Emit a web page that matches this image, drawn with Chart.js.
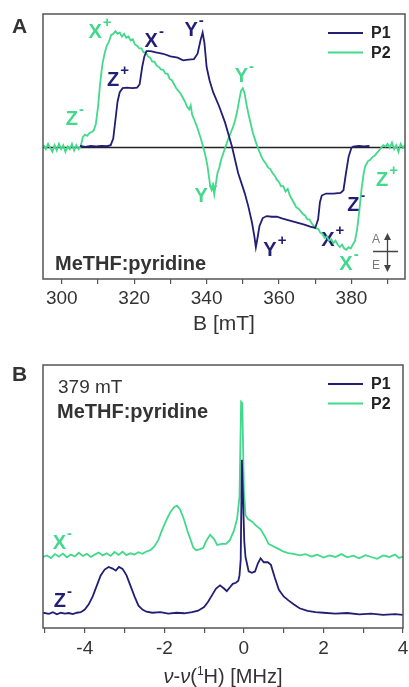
<!DOCTYPE html>
<html>
<head>
<meta charset="utf-8">
<script src="https://cdn.jsdelivr.net/npm/chart.js@4.4.1/dist/chart.umd.min.js"></script>
<style>
  html, body { margin: 0; padding: 0; background: #fff; }
  #wrapA { position: absolute; left: 0; top: 0; }
  #wrapB { position: absolute; left: 0; top: 345px; }
</style>
</head>
<body>
<div id="wrapA"><canvas id="epr" width="409" height="345"></canvas></div>
<div id="wrapB"><canvas id="endor" width="409" height="342"></canvas></div>
<script>
// ---- panel A: field-swept EPR (B in mT, signal A/E) ----
const fieldTicks = [300, 310, 320, 330, 340, 350, 360, 370, 380, 390];
const fieldP1 = [
  305, 306.5, 308, 309.5, 311, 312.5, 313.5, 314.2, 314.8, 315.4,
  316.0, 316.8, 318, 319.5, 320.8, 321.5, 322.2, 322.8, 323.4, 324.5,
  326, 328, 330, 332, 333.5, 335, 336.5, 337.5, 338.3, 338.9,
  339.4, 340, 340.8, 341.8, 343.5, 345.1, 347.0, 348.7, 350.5, 351.5,
  352.5, 353.2, 353.6, 354.0, 354.6, 355.5, 356.6, 358, 359.4, 361,
  363, 365, 367, 368.6, 370, 370.8, 371.3, 371.8, 373, 375,
  377, 377.8, 378.5, 379.2, 380, 380.5, 382, 383.5, 385
];
const signalP1 = [
  0.004, -0.003, 0.005, 0.0, 0.004, 0.002, 0.01, 0.06, 0.2, 0.34,
  0.41, 0.44, 0.445, 0.44, 0.445, 0.47, 0.6, 0.68, 0.72, 0.72,
  0.71, 0.70, 0.68, 0.67, 0.65, 0.655, 0.66, 0.70, 0.80, 0.86,
  0.78, 0.60, 0.5, 0.41, 0.30, 0.18, 0.0, -0.2, -0.35, -0.45,
  -0.57, -0.68, -0.76, -0.70, -0.6, -0.54, -0.525, -0.53, -0.53, -0.545,
  -0.56, -0.575, -0.59, -0.605, -0.615, -0.55, -0.42, -0.37, -0.355, -0.355,
  -0.35, -0.33, -0.2, -0.08, -0.01, 0, 0.005, 0.0, 0.005
];
const fieldP2 = [
  295.0, 295.6, 296.2, 296.8, 297.4, 298.0, 298.6, 299.2, 299.8, 300.4,
  301.0, 301.6, 302.2, 302.8, 303.4, 304.0, 304.6, 305.2, 305.8, 306.4,
  307.0, 307.6, 308.2, 308.8, 309.4, 310.0, 310.6, 311.2, 311.8, 312.4,
  313.0, 313.6, 314.2, 314.8, 315.4, 316.0, 316.6, 317.2, 317.8, 318.4,
  319.0, 319.6, 320.2, 320.8, 321.4, 322.0, 322.6, 323.2, 323.8, 324.4,
  325.0, 325.6, 326.2, 326.8, 327.4, 328.0, 328.6, 329.2, 329.8, 330.4,
  331.0, 331.6, 332.2, 332.8, 333.4, 334.0, 334.6, 335.2, 335.6, 336.0,
  336.6, 337.2, 337.8, 338.4, 339.0, 339.6, 340.2, 340.6, 341.0, 341.4,
  341.8, 342.1, 342.5, 343.0, 343.5, 344.0, 344.5, 345.0, 345.5, 346.0,
  346.6, 347.2, 347.8, 348.4, 349.0, 349.5, 350.0, 350.5, 351.0, 351.6,
  352.2, 352.8, 353.4, 354.0, 354.6, 355.2, 355.8, 356.4, 357.0, 357.6,
  358.2, 358.8, 359.4, 360.0, 360.6, 361.2, 361.8, 362.4, 363.0, 363.6,
  364.2, 364.8, 365.4, 366.0, 366.6, 367.2, 367.8, 368.4, 369.0, 369.6,
  370.2, 370.8, 371.4, 372.0, 372.6, 373.2, 373.8, 374.4, 375.0, 375.6,
  376.2, 376.8, 377.4, 378.0, 378.6, 379.2, 379.8, 380.4, 381.0, 381.6,
  382.2, 382.8, 383.4, 383.8, 384.2, 384.6, 385.2, 385.8, 386.4, 387.0,
  387.6, 388.2, 388.8, 389.4, 390.0, 390.6, 391.2, 391.8, 392.4, 393.0,
  393.6, 394.2, 394.8
];
const signalP2 = [
  0.01, -0.02, 0.02, -0.01, -0.04, 0.01, -0.03, 0.02, -0.02, 0.01,
  -0.04, 0.0, -0.02, 0.02, -0.03, 0.01, -0.02, 0.0, 0.07, 0.09,
  0.08, 0.10, 0.11, 0.12, 0.17, 0.30, 0.48, 0.62, 0.70, 0.76,
  0.79, 0.84, 0.85, 0.87, 0.85, 0.86, 0.83, 0.85, 0.82, 0.83,
  0.80, 0.81, 0.77, 0.76, 0.74, 0.74, 0.71, 0.71, 0.68, 0.67,
  0.64, 0.64, 0.61, 0.60, 0.58, 0.58, 0.55, 0.55, 0.51, 0.50,
  0.47, 0.44, 0.42, 0.40, 0.37, 0.34, 0.30, 0.28, 0.31, 0.24,
  0.20, 0.16, 0.11, 0.06, 0.0, -0.06, -0.14, -0.22, -0.30, -0.33,
  -0.30, -0.36, -0.29, -0.20, -0.16, -0.10, -0.06, -0.02, 0.02, 0.06,
  0.10, 0.14, 0.19, 0.26, 0.35, 0.42, 0.44, 0.40, 0.32, 0.24,
  0.17, 0.10, 0.05, 0.0, -0.04, -0.08, -0.11, -0.13, -0.16, -0.17,
  -0.20, -0.22, -0.25, -0.27, -0.30, -0.30, -0.34, -0.32, -0.37, -0.40,
  -0.43, -0.46, -0.47, -0.49, -0.51, -0.52, -0.55, -0.55, -0.58, -0.60,
  -0.62, -0.62, -0.65, -0.66, -0.69, -0.68, -0.71, -0.70, -0.73, -0.71,
  -0.74, -0.76, -0.74, -0.77, -0.78, -0.76, -0.77, -0.74, -0.71, -0.62,
  -0.48, -0.32, -0.20, -0.15, -0.13, -0.11, -0.10, -0.08, -0.07, -0.05,
  -0.03, -0.01, 0.01, 0.0, 0.02, -0.01, 0.03, -0.02, 0.01, -0.04,
  0.02, -0.01, 0.01
];

// ---- panel B: ENDOR at 379 mT (offset from 1H Larmor, MHz) ----
const freqTicks = [-5, -4, -3, -2, -1, 0, 1, 2, 3, 4];
const freqP1 = [
  -5.05, -4.9, -4.8, -4.7, -4.6, -4.5, -4.4, -4.3, -4.2, -4.1,
  -4.0, -3.9, -3.8, -3.7, -3.6, -3.5, -3.4, -3.3, -3.22, -3.14,
  -3.05, -2.95, -2.85, -2.75, -2.65, -2.55, -2.45, -2.3, -2.1, -1.9,
  -1.7, -1.5, -1.3, -1.15, -1.0, -0.9, -0.8, -0.7, -0.6, -0.5,
  -0.43, -0.35, -0.28, -0.2, -0.14, -0.11, -0.08, -0.05, 0.01, 0.04,
  0.07, 0.12, 0.2, 0.28, 0.35, 0.42, 0.5, 0.6, 0.68, 0.78,
  0.88, 1.0, 1.12, 1.25, 1.4, 1.6, 1.8, 2.0, 2.3, 2.6,
  2.9, 3.2, 3.5, 3.8, 4.0
];
const endorP1 = [
  0.058, 0.054, 0.06, 0.052, 0.058, 0.055, 0.057, 0.053, 0.058, 0.06,
  0.07, 0.09, 0.12, 0.16, 0.20, 0.222, 0.232, 0.226, 0.218, 0.232,
  0.225, 0.20, 0.16, 0.12, 0.085, 0.07, 0.062, 0.058, 0.06, 0.055,
  0.058, 0.056, 0.06, 0.066, 0.08, 0.10, 0.125, 0.15, 0.162, 0.15,
  0.14, 0.155, 0.168, 0.172, 0.18, 0.20, 0.26, 0.64, 0.33, 0.27,
  0.25, 0.215, 0.21, 0.215, 0.245, 0.265, 0.25, 0.25, 0.24, 0.19,
  0.145, 0.12, 0.105, 0.09, 0.075, 0.065, 0.06, 0.058, 0.055, 0.057,
  0.052, 0.055, 0.05, 0.053, 0.05
];
const freqP2 = [
  -5.05, -4.95, -4.85, -4.75, -4.65, -4.55, -4.45, -4.35, -4.25, -4.15,
  -4.05, -3.95, -3.85, -3.75, -3.65, -3.55, -3.45, -3.35, -3.25, -3.15,
  -3.05, -2.95, -2.85, -2.75, -2.65, -2.55, -2.45, -2.35, -2.25, -2.15,
  -2.05, -1.95, -1.85, -1.75, -1.68, -1.6, -1.5, -1.42, -1.35, -1.27,
  -1.2, -1.1, -1.02, -0.95, -0.85, -0.75, -0.67, -0.55, -0.45, -0.35,
  -0.25, -0.17, -0.11, -0.07, -0.04, 0.0, 0.04, 0.1, 0.2, 0.3,
  0.42, 0.52, 0.62, 0.75, 0.88, 1.0, 1.12, 1.25, 1.4, 1.55,
  1.7, 1.85, 2.0, 2.15, 2.3, 2.45, 2.6, 2.75, 2.9, 3.05,
  3.2, 3.35, 3.5, 3.65, 3.8, 3.9, 4.0
];
const endorP2 = [
  0.27, 0.276, 0.266, 0.281, 0.271, 0.283, 0.269, 0.279, 0.272, 0.286,
  0.274, 0.282, 0.27, 0.279, 0.287, 0.276, 0.284, 0.274, 0.289, 0.278,
  0.29, 0.277, 0.284, 0.279, 0.288, 0.282, 0.291, 0.296, 0.31, 0.335,
  0.375, 0.41, 0.44, 0.46, 0.465, 0.45, 0.41, 0.37, 0.34, 0.305,
  0.296, 0.30, 0.305, 0.33, 0.355, 0.338, 0.316, 0.32, 0.32, 0.335,
  0.37, 0.415, 0.50, 0.86, 0.855, 0.52, 0.43, 0.415, 0.405, 0.39,
  0.375, 0.35, 0.32, 0.31, 0.30, 0.29, 0.285, 0.282, 0.276, 0.281,
  0.272, 0.279, 0.268, 0.276, 0.27, 0.281, 0.269, 0.275, 0.265, 0.277,
  0.27, 0.263, 0.276, 0.27, 0.279, 0.266, 0.272
];

const FONT = '"Liberation Sans", Arial, sans-serif';
const NAVY = '#221e74';
const GREEN = '#42d98b';
const INK = '#333';

Chart.defaults.font.family = FONT;

const pts = (xs, ys) => xs.map((v, i) => ({ x: v, y: ys[i] }));

function drawLabel(ctx, x, y, text, sup, color) {
  ctx.fillStyle = color;
  ctx.font = 'bold 20px ' + FONT;
  ctx.textAlign = 'center';
  ctx.textBaseline = 'alphabetic';
  ctx.fillText(text, x, y);
  const w = ctx.measureText(text).width;
  ctx.font = 'bold 15px ' + FONT;
  ctx.textAlign = 'left';
  ctx.fillText(sup, x + w / 2 + 1, y - 11);
}

// frame, zero line, legend, peak labels and notes
const decorations = {
  id: 'decorations',
  beforeDatasetsDraw(chart, args, opts) {
    const { ctx, chartArea: a, scales: { x, y } } = chart;
    ctx.save();
    if (opts.zeroLine) {
      const py = Math.round(y.getPixelForValue(0)) + 0.5;
      ctx.strokeStyle = '#222';
      ctx.lineWidth = 1.4;
      ctx.beginPath();
      ctx.moveTo(a.left, py);
      ctx.lineTo(a.right, py);
      ctx.stroke();
    }
    (opts.labels || []).forEach(l =>
      drawLabel(ctx, x.getPixelForValue(l.x), y.getPixelForValue(l.y), l.text, l.sup, l.color));
    ctx.restore();
  },
  afterDatasetsDraw(chart, args, opts) {
    const { ctx, chartArea: a } = chart;
    ctx.save();
    ctx.strokeStyle = '#555';
    ctx.lineWidth = 1.5;
    ctx.strokeRect(a.left, a.top, a.right - a.left, a.bottom - a.top);

    ctx.fillStyle = INK;
    ctx.font = 'bold 21px ' + FONT;
    ctx.textAlign = 'left';
    ctx.textBaseline = 'alphabetic';
    ctx.fillText(opts.panel, 12, a.top + opts.panelDy);

    chart.data.datasets.forEach((ds, i) => {
      const ly = a.top + 19 + i * 19.5;
      ctx.strokeStyle = ds.borderColor;
      ctx.lineWidth = 1.8;
      ctx.beginPath();
      ctx.moveTo(328, ly);
      ctx.lineTo(363, ly);
      ctx.stroke();
      ctx.fillStyle = '#222';
      ctx.font = 'bold 16px ' + FONT;
      ctx.textBaseline = 'middle';
      ctx.fillText(ds.label, 371, ly + 1);
    });

    ctx.textBaseline = 'alphabetic';
    (opts.notes || []).forEach(n => {
      ctx.fillStyle = INK;
      ctx.font = n.font;
      ctx.fillText(n.text, a.left + n.dx, n.fromBottom ? a.bottom - n.dy : a.top + n.dy);
    });

    if (opts.arrow) {
      const ax = a.right - 17.5, top = a.bottom - 46, bot = a.bottom - 7, mid = a.bottom - 27.5;
      ctx.strokeStyle = '#444';
      ctx.fillStyle = '#444';
      ctx.lineWidth = 1.3;
      ctx.beginPath();
      ctx.moveTo(ax, top + 5); ctx.lineTo(ax, bot - 5);
      ctx.moveTo(a.right - 32, mid); ctx.lineTo(a.right - 7, mid);
      ctx.stroke();
      ctx.beginPath();
      ctx.moveTo(ax, top); ctx.lineTo(ax - 3.5, top + 7); ctx.lineTo(ax + 3.5, top + 7);
      ctx.closePath(); ctx.fill();
      ctx.beginPath();
      ctx.moveTo(ax, bot); ctx.lineTo(ax - 3.5, bot - 7); ctx.lineTo(ax + 3.5, bot - 7);
      ctx.closePath(); ctx.fill();
      ctx.fillStyle = '#777';
      ctx.font = '12px ' + FONT;
      ctx.textAlign = 'center';
      ctx.textBaseline = 'middle';
      ctx.fillText('A', a.right - 29, a.bottom - 39);
      ctx.fillText('E', a.right - 29, a.bottom - 13);
    }

    if (opts.nuTitle) {
      // ν-ν(¹H) [MHz] with italic nu and raised 1
      const parts = [
        { t: 'ν', f: 'italic 20px ' + FONT, up: 0 },
        { t: '-', f: '20px ' + FONT, up: 0 },
        { t: 'ν', f: 'italic 20px ' + FONT, up: 0 },
        { t: '(', f: '20px ' + FONT, up: 0 },
        { t: '1', f: '12px ' + FONT, up: 8 },
        { t: 'H) [MHz]', f: '20px ' + FONT, up: 0 }
      ];
      let total = 0;
      parts.forEach(p => { ctx.font = p.f; p.w = ctx.measureText(p.t).width; total += p.w; });
      let cx = (a.left + a.right) / 2 - total / 2;
      const base = chart.height - 4;
      ctx.fillStyle = INK;
      ctx.textAlign = 'left';
      ctx.textBaseline = 'alphabetic';
      parts.forEach(p => { ctx.font = p.f; ctx.fillText(p.t, cx, base - p.up); cx += p.w; });
    }
    ctx.restore();
  }
};

const axisX = (min, max, tickValues, every, height, padding, title) => ({
  type: 'linear', min: min, max: max,
  grid: { drawOnChartArea: false, drawTicks: true, tickLength: 5, color: '#555', lineWidth: 1.2 },
  border: { display: false },
  afterBuildTicks: s => { s.ticks = tickValues.map(v => ({ value: v })); },
  ticks: {
    autoSkip: false, maxRotation: 0, padding: padding,
    color: INK, font: { size: 19 },
    callback: v => (v % every === 0 ? String(v) : '')
  },
  title: title,
  afterFit: s => { s.height = height; s.paddingLeft = 0; s.paddingRight = 0; }
});

new Chart(document.getElementById('epr'), {
  type: 'line',
  data: {
    datasets: [
      { label: 'P1', data: pts(fieldP1, signalP1), borderColor: NAVY, borderWidth: 1.8, pointRadius: 0, tension: 0 },
      { label: 'P2', data: pts(fieldP2, signalP2), borderColor: GREEN, borderWidth: 1.8, pointRadius: 0, tension: 0 }
    ]
  },
  options: {
    responsive: false, animation: false, devicePixelRatio: 1,
    layout: { padding: { top: 14, left: 43, right: 4, bottom: 0 } },
    plugins: {
      legend: { display: false },
      tooltip: { enabled: false },
      decorations: {
        panel: 'A', panelDy: 19, zeroLine: true, arrow: true,
        notes: [{ text: 'MeTHF:pyridine', font: 'bold 20px ' + FONT, dx: 12, dy: 9, fromBottom: true }],
        labels: [
          { text: 'Z', sup: '-', color: GREEN, x: 302.8, y: 0.165 },
          { text: 'X', sup: '+', color: GREEN, x: 309.2, y: 0.82 },
          { text: 'Z', sup: '+', color: NAVY, x: 314.2, y: 0.46 },
          { text: 'X', sup: '-', color: NAVY, x: 324.7, y: 0.75 },
          { text: 'Y', sup: '-', color: NAVY, x: 335.7, y: 0.835 },
          { text: 'Y', sup: '-', color: GREEN, x: 349.6, y: 0.49 },
          { text: 'Y', sup: '+', color: GREEN, x: 338.5, y: -0.42 },
          { text: 'Y', sup: '+', color: NAVY, x: 357.5, y: -0.83 },
          { text: 'X', sup: '+', color: NAVY, x: 373.5, y: -0.75 },
          { text: 'Z', sup: '-', color: NAVY, x: 380.5, y: -0.49 },
          { text: 'X', sup: '-', color: GREEN, x: 378.5, y: -0.93 },
          { text: 'Z', sup: '+', color: GREEN, x: 388.5, y: -0.30 }
        ]
      }
    },
    scales: {
      x: axisX(294.8, 394.8, fieldTicks, 20, 66, 3,
        { display: true, text: 'B [mT]', color: INK, font: { size: 21 }, padding: { top: 0, bottom: 8 } }),
      y: { display: false, min: -1, max: 1 }
    }
  },
  plugins: [decorations]
});

new Chart(document.getElementById('endor'), {
  type: 'line',
  data: {
    datasets: [
      { label: 'P1', data: pts(freqP1, endorP1), borderColor: NAVY, borderWidth: 1.8, pointRadius: 0, tension: 0 },
      { label: 'P2', data: pts(freqP2, endorP2), borderColor: GREEN, borderWidth: 1.8, pointRadius: 0, tension: 0 }
    ]
  },
  options: {
    responsive: false, animation: false, devicePixelRatio: 1,
    layout: { padding: { top: 20, left: 43, right: 6, bottom: 0 } },
    plugins: {
      legend: { display: false },
      tooltip: { enabled: false },
      decorations: {
        panel: 'B', panelDy: 16, nuTitle: true,
        notes: [
          { text: '379 mT', font: '19px ' + FONT, dx: 15, dy: 28 },
          { text: 'MeTHF:pyridine', font: 'bold 20px ' + FONT, dx: 14, dy: 53 }
        ],
        labels: [
          { text: 'X', sup: '-', color: GREEN, x: -4.64, y: 0.30 },
          { text: 'Z', sup: '-', color: NAVY, x: -4.625, y: 0.08 }
        ]
      }
    },
    scales: {
      x: axisX(-5.05, 4, freqTicks, 2, 59, 4, { display: false }),
      y: { display: false, min: 0, max: 1 }
    }
  },
  plugins: [decorations]
});
</script>
</body>
</html>
